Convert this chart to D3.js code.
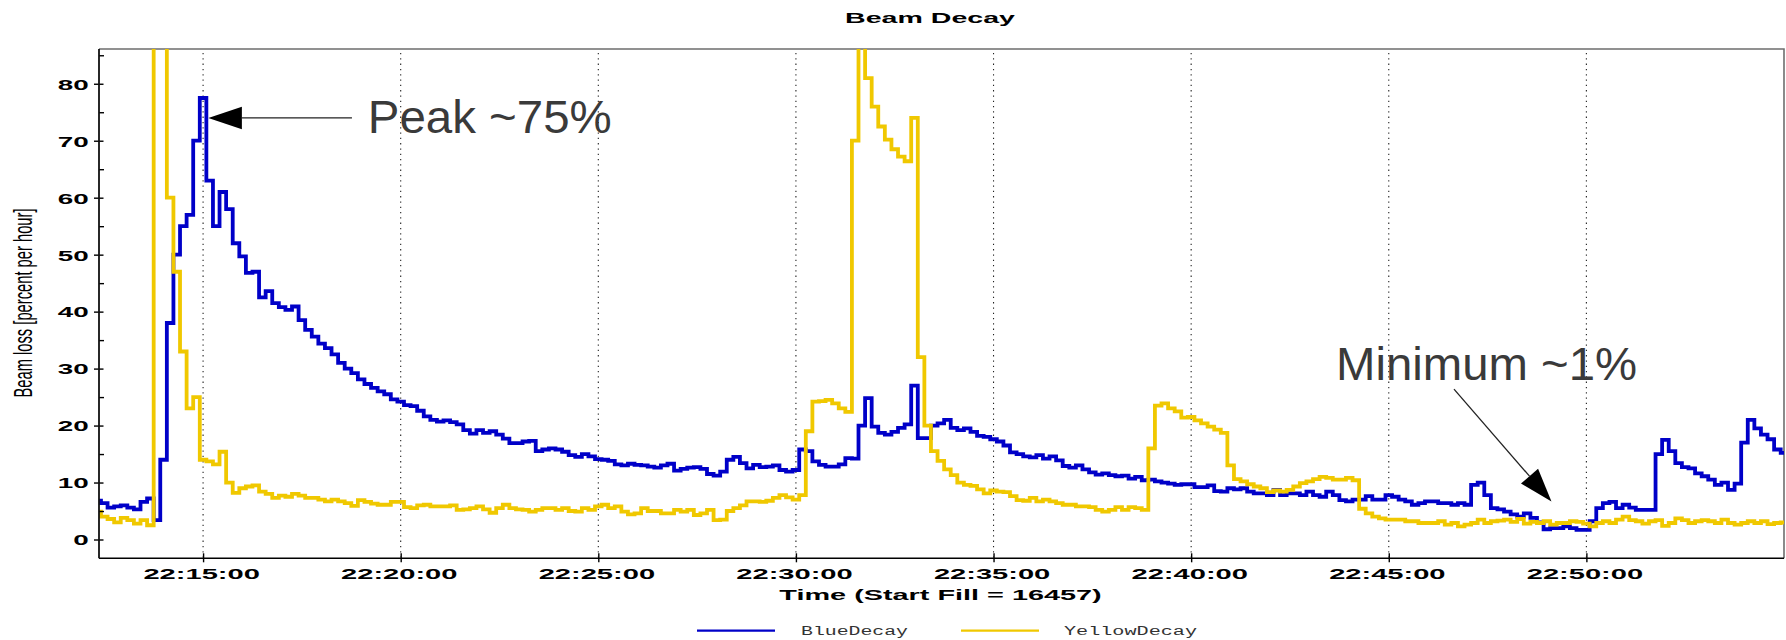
<!DOCTYPE html>
<html>
<head>
<meta charset="utf-8">
<script src="https://cdn.jsdelivr.net/npm/d3@7"></script>
<style>
  html, body { margin: 0; padding: 0; background: #fff; }
  svg { display: block; }
</style>
</head>
<body>
<svg id="chart" width="1786" height="640"></svg>
<script>
// ---------------- DATA ----------------
const chartTitle = "Beam Decay";
const xAxisTitle = "Time (Start Fill = 16457)";
const yAxisTitle = "Beam loss [percent per hour]";
const seriesNames = ["BlueDecay", "YellowDecay"];

const times = [
"22:12:20","22:12:30","22:12:40","22:12:50",
"22:13:00","22:13:10","22:13:20","22:13:30","22:13:40","22:13:50",
"22:14:00","22:14:10","22:14:20","22:14:30","22:14:40","22:14:50",
"22:15:00","22:15:10","22:15:20","22:15:30","22:15:40","22:15:50",
"22:16:00","22:16:10","22:16:20","22:16:30","22:16:40","22:16:50",
"22:17:00","22:17:10","22:17:20","22:17:30","22:17:40","22:17:50",
"22:18:00","22:18:10","22:18:20","22:18:30","22:18:40","22:18:50",
"22:19:00","22:19:10","22:19:20","22:19:30","22:19:40","22:19:50",
"22:20:00","22:20:10","22:20:20","22:20:30","22:20:40","22:20:50",
"22:21:00","22:21:10","22:21:20","22:21:30","22:21:40","22:21:50",
"22:22:00","22:22:10","22:22:20","22:22:30","22:22:40","22:22:50",
"22:23:00","22:23:10","22:23:20","22:23:30","22:23:40","22:23:50",
"22:24:00","22:24:10","22:24:20","22:24:30","22:24:40","22:24:50",
"22:25:00","22:25:10","22:25:20","22:25:30","22:25:40","22:25:50",
"22:26:00","22:26:10","22:26:20","22:26:30","22:26:40","22:26:50",
"22:27:00","22:27:10","22:27:20","22:27:30","22:27:40","22:27:50",
"22:28:00","22:28:10","22:28:20","22:28:30","22:28:40","22:28:50",
"22:29:00","22:29:10","22:29:20","22:29:30","22:29:40","22:29:50",
"22:30:00","22:30:10","22:30:20","22:30:30","22:30:40","22:30:50",
"22:31:00","22:31:10","22:31:20","22:31:30","22:31:40","22:31:50",
"22:32:00","22:32:10","22:32:20","22:32:30","22:32:40","22:32:50",
"22:33:00","22:33:10","22:33:20","22:33:30","22:33:40","22:33:50",
"22:34:00","22:34:10","22:34:20","22:34:30","22:34:40","22:34:50",
"22:35:00","22:35:10","22:35:20","22:35:30","22:35:40","22:35:50",
"22:36:00","22:36:10","22:36:20","22:36:30","22:36:40","22:36:50",
"22:37:00","22:37:10","22:37:20","22:37:30","22:37:40","22:37:50",
"22:38:00","22:38:10","22:38:20","22:38:30","22:38:40","22:38:50",
"22:39:00","22:39:10","22:39:20","22:39:30","22:39:40","22:39:50",
"22:40:00","22:40:10","22:40:20","22:40:30","22:40:40","22:40:50",
"22:41:00","22:41:10","22:41:20","22:41:30","22:41:40","22:41:50",
"22:42:00","22:42:10","22:42:20","22:42:30","22:42:40","22:42:50",
"22:43:00","22:43:10","22:43:20","22:43:30","22:43:40","22:43:50",
"22:44:00","22:44:10","22:44:20","22:44:30","22:44:40","22:44:50",
"22:45:00","22:45:10","22:45:20","22:45:30","22:45:40","22:45:50",
"22:46:00","22:46:10","22:46:20","22:46:30","22:46:40","22:46:50",
"22:47:00","22:47:10","22:47:20","22:47:30","22:47:40","22:47:50",
"22:48:00","22:48:10","22:48:20","22:48:30","22:48:40","22:48:50",
"22:49:00","22:49:10","22:49:20","22:49:30","22:49:40","22:49:50",
"22:50:00","22:50:10","22:50:20","22:50:30","22:50:40","22:50:50",
"22:51:00","22:51:10","22:51:20","22:51:30","22:51:40","22:51:50",
"22:52:00","22:52:10","22:52:20","22:52:30","22:52:40","22:52:50",
"22:53:00","22:53:10","22:53:20","22:53:30","22:53:40","22:53:50",
"22:54:00","22:54:10","22:54:20","22:54:30","22:54:40","22:54:50",
"22:55:00"
];

const blueDecay = [
6.8,6.4,5.6,5.8,6.0,5.6,5.3,6.6,7.2,3.4,
14.0,38.0,50.0,55.0,57.0,70.0,77.5,63.0,55.0,61.0,
58.0,52.0,49.7,46.8,47.0,42.5,43.6,41.5,40.8,40.3,
40.9,38.5,36.8,35.6,34.4,33.6,32.5,31.0,30.0,29.2,
28.1,27.3,26.6,
26.0,25.5,24.6,24.2,23.6,23.4,22.6,
21.6,21.0,20.7,20.9,20.6,20.2,19.2,18.6,19.2,18.7,
19.0,18.4,17.7,16.9,16.9,17.2,17.3,15.5,15.8,16.0,
15.8,15.4,14.8,14.5,15.0,14.6,14.1,14.0,13.8,13.2,
13.0,13.3,13.1,13.0,12.8,12.6,
13.0,13.3,12.1,12.4,
12.6,12.7,12.4,11.5,11.2,11.9,14.0,14.5,13.4,12.5,
13.1,12.7,12.8,13.0,12.2,11.9,12.2,15.8,15.5,13.7,
13.1,12.8,12.8,13.2,14.3,14.2,20.0,24.8,19.8,18.7,
18.4,18.9,19.6,20.2,27.0,17.8,17.8,20.0,
20.4,21.0,19.6,19.2,19.5,18.9,18.2,18.0,17.6,17.2,16.5,15.3,
15.0,14.6,14.4,14.8,14.2,14.6,13.9,12.9,12.6,13.0,
12.3,11.8,11.4,11.6,11.3,11.1,11.2,10.7,11.0,10.4,
10.5,10.2,10.0,9.8,9.6,9.7,9.7,9.2,9.2,9.5,
8.5,
8.4,9.0,8.8,9.0,8.4,8.1,8.1,7.8,8.7,
7.8,8.1,8.1,7.8,8.4,7.8,7.5,8.4,7.8,6.9,
6.7,7.0,7.0,7.6,7.0,7.0,7.8,7.5,7.0,6.7,
6.1,6.4,6.7,6.7,6.4,6.4,6.1,6.4,6.1,9.6,
10.0,7.8,5.5,
5.3,4.9,4.4,4.0,4.6,3.8,3.0,
1.8,2.0,2.0,2.3,2.0,1.7,1.7,3.2,5.5,6.4,
6.6,5.5,6.1,5.6,5.2,5.2,5.2,15.0,17.5,15.5,
13.4,12.7,12.5,11.6,11.1,10.5,9.6,10.0,8.7,9.8,
17.0,21.0,19.5,18.4,17.6,15.8,15.2
];

const yellowDecay = [
4.9,4.0,3.6,3.0,3.8,3.4,2.8,3.4,2.5,150,
150,60.0,47.0,33.0,23.0,25.0,14.0,13.7,13.2,15.4,
10.0,8.2,9.0,9.3,9.5,8.4,8.0,7.3,7.7,7.5,
8.0,7.7,7.3,7.3,7.0,6.7,7.0,6.7,6.4,5.9,
6.9,6.6,6.3,
6.1,6.1,6.6,6.6,5.7,5.5,6.0,
6.1,5.8,5.8,5.8,6.0,5.2,5.3,5.5,5.8,5.3,
4.7,5.5,6.1,5.5,5.3,5.2,4.9,5.2,5.5,5.5,
5.2,5.5,5.0,4.9,5.5,5.2,5.8,6.1,5.5,5.8,
4.9,4.4,4.6,5.5,5.0,5.0,
4.6,4.6,5.2,4.9,
5.2,4.3,4.6,5.2,3.4,3.5,5.0,5.5,6.0,6.7,
6.7,6.6,6.8,7.3,7.8,7.4,7.0,7.8,19.0,24.2,
24.3,24.5,23.9,23.0,22.4,70.0,130,81.0,76.0,72.5,
70.2,68.5,67.2,66.4,74.0,32.0,20.0,15.5,
13.8,12.3,11.3,10.0,9.6,9.4,8.8,8.1,8.6,8.4,8.3,7.6,
6.9,6.8,7.3,6.7,7.0,6.7,6.4,6.1,6.1,5.8,
5.8,5.7,5.2,4.9,5.2,5.7,5.2,5.7,5.5,5.2,
16.0,23.5,23.9,23.0,22.5,21.4,21.5,20.9,20.4,19.8,
19.3,
18.7,13.0,10.6,10.2,9.7,9.3,9.0,8.3,8.6,
8.4,8.7,9.3,9.9,10.2,10.6,11.0,10.8,10.5,10.5,
10.8,10.4,5.4,4.6,4.0,3.7,3.5,3.5,3.5,3.2,
3.2,2.9,2.9,2.9,3.2,2.6,2.9,2.3,2.6,2.9,
3.5,2.9,3.2,
3.3,3.5,3.1,3.6,2.8,3.1,2.9,
3.2,2.6,2.9,2.9,3.2,3.1,2.8,2.3,2.9,3.2,
2.9,3.5,4.0,3.4,3.2,2.8,3.2,3.4,2.4,2.9,
3.7,3.4,2.9,3.2,3.4,3.2,2.9,3.5,2.9,2.6,
2.9,3.2,2.9,3.2,2.7,2.9,3.0
];

const xDomain = ["22:12:22", "22:55:00"];
const yDomain = [-3.3, 86.1];
const xTickLabels = ["22:15:00","22:20:00","22:25:00","22:30:00","22:35:00","22:40:00","22:45:00","22:50:00"];
const yTickValues = [0, 10, 20, 30, 40, 50, 60, 70, 80];
const yMinorTickValues = [5, 15, 25, 35, 45, 55, 65, 75, 85];

const annotationLabels = ["Peak ~75%", "Minimum ~1%"];
const annotationTextAt = [["22:19:10", 71.35], ["22:43:40", 28.0]];
const annotationFrom   = [["22:18:46", 74.0], ["22:46:39", 26.4]];
const annotationTo     = [["22:15:08", 74.0], ["22:49:07", 6.67]];

// ---------------- STYLE / LAYOUT ----------------
const colors = { BlueDecay: "#0000c8", YellowDecay: "#f0c800" };
const M = { left: 99, right: 1784, top: 49, bottom: 558.3 };
const SANS = "'Liberation Sans', Arial, Helvetica, sans-serif";

const parse = d3.timeParse("%H:%M:%S");
const svg = d3.select("#chart");

const x = d3.scaleTime().domain(xDomain.map(parse)).range([M.left, M.right]);
const y = d3.scaleLinear().domain(yDomain).range([M.bottom, M.top]);

function sText(parent, str, px, py, o) {
  const t = parent.append("text")
    .attr("transform", `translate(${px},${py}) scale(${o.sx || 1},1)${o.rot ? " rotate(" + o.rot + ")" : ""}`)
    .attr("text-anchor", o.anchor || "middle")
    .attr("font-size", o.size)
    .attr("font-weight", o.weight || "bold")
    .attr("font-family", o.family || SANS)
    .attr("fill", o.fill || "#000")
    .text(str);
  if (o.len) t.attr("textLength", o.len).attr("lengthAdjust", "spacingAndGlyphs");
  return t;
}

// title
sText(svg, chartTitle, 930, 23.3, { size: 14, sx: 2.04 });

// gridlines
const xTickDates = xTickLabels.map(parse);
svg.append("g").selectAll("line").data(xTickDates).join("line")
  .attr("x1", d => x(d)).attr("x2", d => x(d))
  .attr("y1", M.top + 4).attr("y2", M.bottom - 1)
  .attr("stroke", "#222").attr("stroke-width", 1.1)
  .attr("stroke-dasharray", "1.3,4");

// frame top/right (grey)
svg.append("path")
  .attr("d", `M${M.left},${M.top}H${M.right}V${M.bottom}`)
  .attr("fill", "none").attr("stroke", "#6e6e6e").attr("stroke-width", 1.6);

// clip for series
svg.append("clipPath").attr("id", "plotclip").append("rect")
  .attr("x", M.left).attr("y", M.top).attr("width", M.right - M.left).attr("height", M.bottom - M.top);

const line = d3.line()
  .x((d, i) => x(parse(times[i])))
  .y(d => y(d))
  .curve(d3.curveStep);

const series = [ { name: "BlueDecay", values: blueDecay }, { name: "YellowDecay", values: yellowDecay } ];
svg.append("g").attr("clip-path", "url(#plotclip)")
  .selectAll("path").data(series).join("path")
  .attr("d", s => line(s.values))
  .attr("fill", "none")
  .attr("stroke", s => colors[s.name])
  .attr("stroke-width", 3.8)
  .attr("stroke-linejoin", "miter");

// x axis
const gx = svg.append("g").attr("transform", `translate(0,${M.bottom})`)
  .call(d3.axisBottom(x).tickValues(xTickDates).tickFormat(d3.timeFormat("%H:%M:%S")).tickSizeOuter(0).tickSizeInner(4));
gx.select(".domain").remove();
gx.selectAll(".tick line").attr("y1", -5).attr("y2", 4).attr("stroke", "#000").attr("stroke-width", 1.4);
gx.selectAll(".tick text")
  .attr("transform", "scale(1.94,1)")
  .attr("x", -1).attr("y", 20.7).attr("dy", 0)
  .attr("font-size", 15).attr("font-weight", "bold").attr("font-family", SANS).attr("fill", "#000");
svg.append("line").attr("x1", M.left).attr("x2", M.right).attr("y1", M.bottom).attr("y2", M.bottom)
  .attr("stroke", "#000").attr("stroke-width", 1.5);

// y axis
const gy = svg.append("g").attr("transform", `translate(${M.left},0)`)
  .call(d3.axisLeft(y).tickValues(yTickValues).tickFormat(d3.format("d")).tickSizeOuter(0).tickSizeInner(5));
gy.select(".domain").remove();
gy.selectAll(".tick line").attr("x1", 4.5).attr("x2", -5).attr("stroke", "#000").attr("stroke-width", 1.4);
gy.selectAll(".tick text")
  .attr("transform", "scale(1.92,1)")
  .attr("x", -10.2 / 1.92).attr("dy", "0.37em")
  .attr("font-size", 14.5).attr("font-weight", "bold").attr("font-family", SANS).attr("fill", "#000");
const gyMinor = svg.append("g").attr("transform", `translate(${M.left},0)`)
  .call(d3.axisLeft(y).tickValues(yMinorTickValues).tickFormat("").tickSizeOuter(0).tickSizeInner(0));
gyMinor.select(".domain").remove();
gyMinor.selectAll(".tick line").attr("x1", 0).attr("x2", 5).attr("stroke", "#000").attr("stroke-width", 1.4);
svg.append("line").attr("x1", M.left).attr("x2", M.left).attr("y1", M.top).attr("y2", M.bottom)
  .attr("stroke", "#111").attr("stroke-width", 1.8);

// axis titles
sText(svg, xAxisTitle, 940.5, 599.5, { size: 14, sx: 2.06 });
sText(svg, yAxisTitle, 31.5, 303, { size: 12.5, sx: 2.0, rot: -90, weight: "normal",
  family: "'Liberation Sans Narrow', 'Liberation Sans', Arial, sans-serif", len: 189 });

// legend
const legendLines = [[697, 775], [961, 1039]];
const legendText = [[801, 107], [1064, 133]];
seriesNames.forEach((n, i) => {
  svg.append("line").attr("x1", legendLines[i][0]).attr("x2", legendLines[i][1])
    .attr("y1", 630.7).attr("y2", 630.7).attr("stroke", colors[n]).attr("stroke-width", 2.2);
  sText(svg, n, legendText[i][0], 635, { size: 12.5, anchor: "start", weight: "normal",
    family: "'Liberation Mono', 'DejaVu Sans Mono', monospace", fill: "#333", len: legendText[i][1] });
});

// annotations
const annWidths = [244, 301];
annotationLabels.forEach((lab, i) => {
  const [tx, tv] = annotationTextAt[i];
  sText(svg, lab, x(parse(tx)), y(tv), { size: 46.5, anchor: "start", weight: "normal",
    family: SANS, fill: "#3a3a3a", len: annWidths[i] });
  const x0 = x(parse(annotationFrom[i][0])), y0 = y(annotationFrom[i][1]);
  const x1 = x(parse(annotationTo[i][0])), y1 = y(annotationTo[i][1]);
  const dx = x1 - x0, dy = y1 - y0, L = Math.hypot(dx, dy);
  const ux = dx / L, uy = dy / L, hl = 33.5, hw = 11.3;
  const bx = x1 - ux * hl, by = y1 - uy * hl;
  svg.append("line").attr("x1", x0).attr("y1", y0).attr("x2", bx).attr("y2", by)
    .attr("stroke", "#222").attr("stroke-width", 1.3);
  svg.append("path")
    .attr("d", `M${x1},${y1}L${bx - uy * hw},${by + ux * hw}L${bx + uy * hw},${by - ux * hw}Z`)
    .attr("fill", "#000");
});
</script>
</body>
</html>
